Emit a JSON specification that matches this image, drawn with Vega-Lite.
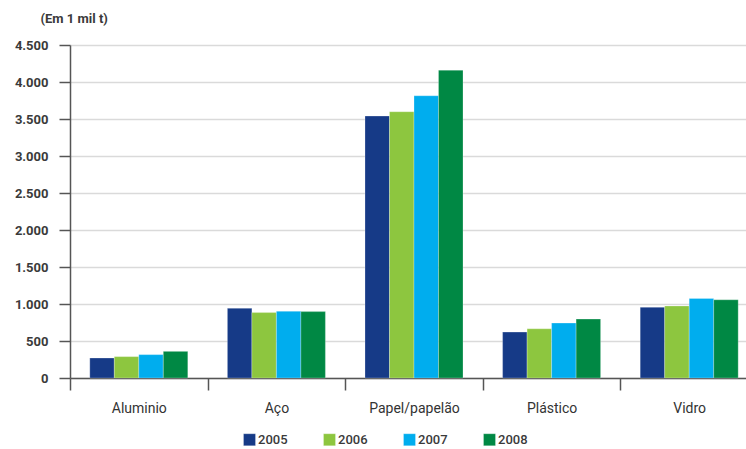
{
  "$schema": "https://vega.github.io/schema/vega-lite/v6.json",
  "width": 676,
  "height": 333,
  "autosize": {"type": "none"},
  "padding": {"left": 70, "top": 45, "right": 0, "bottom": 71},
  "background": "white",
  "data": {
    "values": [
      {"material": "Aluminio", "ano": "2005", "valor": 270},
      {"material": "Aluminio", "ano": "2006", "valor": 289},
      {"material": "Aluminio", "ano": "2007", "valor": 316},
      {"material": "Aluminio", "ano": "2008", "valor": 360},
      {"material": "Aço", "ano": "2005", "valor": 942},
      {"material": "Aço", "ano": "2006", "valor": 884},
      {"material": "Aço", "ano": "2007", "valor": 901},
      {"material": "Aço", "ano": "2008", "valor": 897},
      {"material": "Papel/papelão", "ano": "2005", "valor": 3540},
      {"material": "Papel/papelão", "ano": "2006", "valor": 3598},
      {"material": "Papel/papelão", "ano": "2007", "valor": 3814},
      {"material": "Papel/papelão", "ano": "2008", "valor": 4160},
      {"material": "Plástico", "ano": "2005", "valor": 620},
      {"material": "Plástico", "ano": "2006", "valor": 665},
      {"material": "Plástico", "ano": "2007", "valor": 742},
      {"material": "Plástico", "ano": "2008", "valor": 796},
      {"material": "Vidro", "ano": "2005", "valor": 955},
      {"material": "Vidro", "ano": "2006", "valor": 973},
      {"material": "Vidro", "ano": "2007", "valor": 1075},
      {"material": "Vidro", "ano": "2008", "valor": 1057}
    ]
  },
  "mark": {"type": "bar"},
  "encoding": {
    "x": {
      "field": "material",
      "type": "nominal",
      "sort": null,
      "scale": {"range": [0, 688], "paddingInner": 0, "paddingOuter": 0},
      "axis": {
        "title": null,
        "labelAngle": 0,
        "tickBand": "extent",
        "tickSize": 12,
        "tickColor": "#555555",
        "tickWidth": 1.5,
        "domainColor": "#555555",
        "domainWidth": 1.5,
        "labelPadding": 11,
        "labelFont": "Roboto, sans-serif",
        "labelFontSize": 14,
        "labelFontWeight": "normal",
        "labelColor": "#333333",
        "grid": false
      }
    },
    "xOffset": {
      "field": "ano",
      "type": "nominal",
      "scale": {"paddingInner": 0, "paddingOuter": 0.808}
    },
    "y": {
      "field": "valor",
      "type": "quantitative",
      "scale": {"domain": [0, 4500], "nice": false},
      "axis": {
        "values": [0, 500, 1000, 1500, 2000, 2500, 3000, 3500, 4000, 4500],
        "labelExpr": "replace(format(datum.value, ','), ',', '.')",
        "title": "(Em 1 mil t)",
        "titleAngle": 0,
        "titleAlign": "left",
        "titleBaseline": "alphabetic",
        "titleX": -30,
        "titleY": -23,
        "titleFont": "Roboto, sans-serif",
        "titleFontSize": 13,
        "titleFontWeight": "bold",
        "titleColor": "#3a3a3a",
        "labelFont": "Roboto, sans-serif",
        "labelFontSize": 13,
        "labelFontWeight": "bold",
        "labelColor": "#3a3a3a",
        "labelPadding": 11,
        "tickSize": 11,
        "tickColor": "#555555",
        "tickWidth": 1.5,
        "domainColor": "#555555",
        "domainWidth": 1.5,
        "grid": true,
        "gridColor": "#dadada",
        "gridWidth": 1.5
      }
    },
    "color": {
      "field": "ano",
      "type": "nominal",
      "scale": {
        "domain": ["2005", "2006", "2007", "2008"],
        "range": ["#163a87", "#8dc63f", "#00adee", "#008844"]
      },
      "legend": {
        "title": null,
        "orient": "none",
        "direction": "horizontal",
        "legendX": 173,
        "legendY": 388,
        "padding": 0,
        "symbolType": "square",
        "symbolSize": 144,
        "symbolStrokeWidth": 0,
        "labelOffset": 2,
        "columnPadding": 33,
        "labelFont": "Roboto, sans-serif",
        "labelFontSize": 13,
        "labelFontWeight": 500,
        "labelColor": "#3a3a3a"
      }
    }
  },
  "config": {
    "view": {"stroke": null},
    "bar": {"stroke": "white", "strokeOpacity": 0.25, "strokeWidth": 1}
  }
}
